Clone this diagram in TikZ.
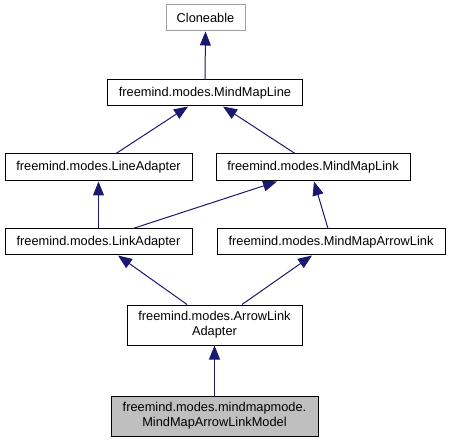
\documentclass[tikz,border=0pt]{standalone}
\usepackage{fontspec}
\setmainfont{Liberation Sans}
\usetikzlibrary{arrows.meta}
\definecolor{edgecol}{HTML}{191970}
\definecolor{graybd}{HTML}{A0A0A0}
\definecolor{modelfill}{HTML}{BFBFBF}
\begin{document}
\begin{tikzpicture}[x=1pt,y=-1pt,
  cls/.style={draw=black,line width=1pt,fill=white,inner sep=0pt,align=center,
    font=\fontsize{12.8pt}{15pt}\selectfont},
  ext/.style={cls,draw=graybd},
  inh/.style={draw=edgecol,line width=1pt,-{Triangle[length=14pt,width=11pt]}}]
\useasboundingbox (0,0) rectangle (449,443);
\node[ext,minimum width=79pt,minimum height=26pt] (clo) at (205.5,18) {Cloneable};
\node[cls,minimum width=195pt,minimum height=26pt] (mml) at (205,93) {freemind.modes.MindMapLine};
\node[cls,minimum width=187pt,minimum height=27pt] (la) at (98.5,167.5) {freemind.modes.LineAdapter};
\node[cls,minimum width=194pt,minimum height=27pt] (mmlk) at (313,167.5) {freemind.modes.MindMapLink};
\node[cls,minimum width=187pt,minimum height=26pt] (lka) at (98.5,242) {freemind.modes.LinkAdapter};
\node[cls,minimum width=228pt,minimum height=26pt] (mmal) at (331,242) {freemind.modes.MindMapArrowLink};
\node[cls,minimum width=175pt,minimum height=40pt] (ala) at (214.5,325) {freemind.modes.ArrowLink\\Adapter};
\node[cls,fill=modelfill,minimum width=207pt,minimum height=40pt] (model) at (214.5,416) {freemind.modes.mindmapmode.\\MindMapArrowLinkModel};
\draw[inh] (mml.north) -- (clo.south);
\draw[inh] ([xshift=17.5pt]la.north) -- ([xshift=-17pt]mml.south);
\draw[inh] ([xshift=-18pt]mmlk.north) -- ([xshift=18pt]mml.south);
\draw[inh] (lka.north) -- (la.south);
\draw[inh] ([xshift=34.5pt]lka.north) -- ([xshift=-36pt]mmlk.south);
\draw[inh] ([xshift=-3pt]mmal.north) -- ([xshift=1pt]mmlk.south);
\draw[inh] ([xshift=-27.5pt]ala.north) -- ([xshift=19.5pt]lka.south);
\draw[inh] ([xshift=27.5pt]ala.north) -- ([xshift=-19pt]mmal.south);
\draw[inh] (model.north) -- (ala.south);
\end{tikzpicture}
\end{document}
